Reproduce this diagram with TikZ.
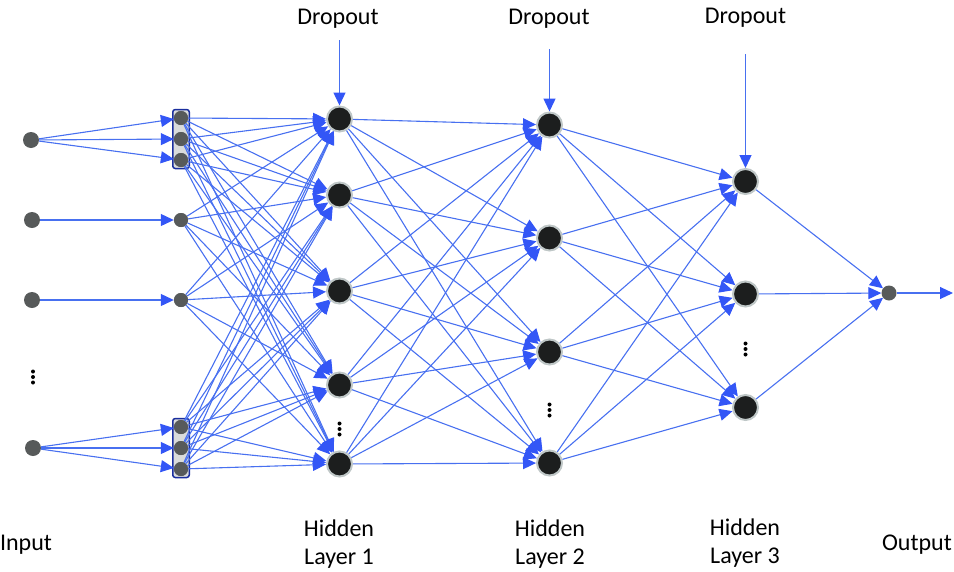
\documentclass[tikz,border=0pt]{standalone}
\usepackage{fontspec}
\setmainfont{Carlito}
\usetikzlibrary{arrows.meta}
\definecolor{edgeblue}{HTML}{4870F0}
\definecolor{tipblue}{HTML}{3356F6}
\definecolor{innode}{HTML}{575A5A}
\definecolor{hidnode}{HTML}{1C1E1E}
\definecolor{hidrim}{HTML}{BFC7C7}
\definecolor{boxblue}{HTML}{1A2E9E}
\definecolor{boxfill}{HTML}{D9DBDB}
\tikzset{
  inneuron/.style={circle,fill=innode,inner sep=0pt,minimum size=16pt},
  aneuron/.style={circle,fill=innode,inner sep=0pt,minimum size=14pt},
  hneuron/.style={circle,fill=hidnode,draw=hidrim,line width=2pt,inner sep=0pt,minimum size=25pt},
  outneuron/.style={circle,fill=innode,inner sep=0pt,minimum size=15pt},
  conn/.style={draw=edgeblue,line width=1.1pt,-{Triangle[length=13pt,width=12pt,color=tipblue]}},
  dropconn/.style={conn,line width=1.4pt},
  groupbox/.style={draw=boxblue,fill=boxfill,line width=1.5pt,rounded corners=2.5pt,inner sep=0pt,minimum width=16.5pt,minimum height=59pt},
  lbl/.style={font=\fontsize{24}{28}\selectfont,text=black,align=center,inner sep=0pt},
  dotmark/.style={circle,fill=black,inner sep=0pt,minimum size=4pt}
}
\begin{document}
\begin{tikzpicture}[x=1pt,y=-1pt]
\useasboundingbox (0,0) rectangle (954,571);
% group boxes
\node[groupbox] (gbox1) at (181,139) {};
\node[groupbox] (gbox2) at (181,448) {};
% input nodes
\node[inneuron] (in1) at (31,140) {};
\node[inneuron] (in2) at (32,220) {};
\node[inneuron] (in3) at (32,300) {};
\node[inneuron] (in4) at (33,448) {};
% first layer
\foreach \i/\y in {1/118,2/139,3/160,4/220,5/300,6/427,7/448,8/469}
  \node[aneuron] (a\i) at (181,\y) {};
% hidden layer 1
\foreach \i/\y in {1/119,2/195,3/291,4/385,5/464}
  \node[hneuron] (h\i) at (339.5,\y) {};
% hidden layer 2
\foreach \i/\y in {1/125,2/238,3/352,4/463}
  \node[hneuron] (k\i) at (549.5,\y) {};
% hidden layer 3
\foreach \i/\y in {1/181.5,2/294,3/407.5}
  \node[hneuron] (m\i) at (745.5,\y) {};
% output
\node[outneuron] (out) at (889,293) {};
\coordinate (outend) at (953,293);
% vertical dots
\foreach \n/\x/\y in {d0/33/377,d1/339.5/429,d2/549.5/410,d3/745.5/349}{
  \node[dotmark] (\n a) at (\x,\y-5.5) {};
  \node[dotmark] (\n b) at (\x,\y) {};
  \node[dotmark] (\n c) at (\x,\y+5.5) {};
}
% input connections
\foreach \t in {1,2,3} \draw[conn] (in1) -- (a\t);
\draw[conn] (in2) -- (a4);
\draw[conn] (in3) -- (a5);
\foreach \t in {6,7,8} \draw[conn] (in4) -- (a\t);
% dense layers
\foreach \s in {1,...,8}
  \foreach \t in {1,...,5}
    \draw[conn] (a\s) -- (h\t);
\foreach \s in {1,...,5}
  \foreach \t in {1,...,4}
    \draw[conn] (h\s) -- (k\t);
\foreach \s in {1,...,4}
  \foreach \t in {1,...,3}
    \draw[conn] (k\s) -- (m\t);
\foreach \s in {1,...,3}
  \draw[conn] (m\s) -- (out);
\draw[conn] (out) -- (outend);
% redraw first-layer neurons on top of lines
\foreach \i/\y in {1/118,2/139,3/160,4/220,5/300,6/427,7/448,8/469}
  \node[aneuron] at (181,\y) {};
% dropout labels and arrows
\node[lbl] (dp1) at (338,19) {Dropout};
\node[lbl] (dp2) at (549,19) {Dropout};
\node[lbl] (dp3) at (745.5,18) {Dropout};
\coordinate (dps1) at (339.5,40);
\coordinate (dps2) at (549.5,49);
\coordinate (dps3) at (745.5,54);
\draw[dropconn] (dps1) -- (h1);
\draw[dropconn] (dps2) -- (k1);
\draw[dropconn] (dps3) -- (m1);
% layer labels
\node[lbl] (linput) at (26,545) {Input};
\node[lbl] (lh1) at (339,544) {Hidden\\Layer 1};
\node[lbl] (lh2) at (550,544) {Hidden\\Layer 2};
\node[lbl] (lh3) at (745,543) {Hidden\\Layer 3};
\node[lbl] (loutput) at (917,545) {Output};
\end{tikzpicture}
\end{document}
